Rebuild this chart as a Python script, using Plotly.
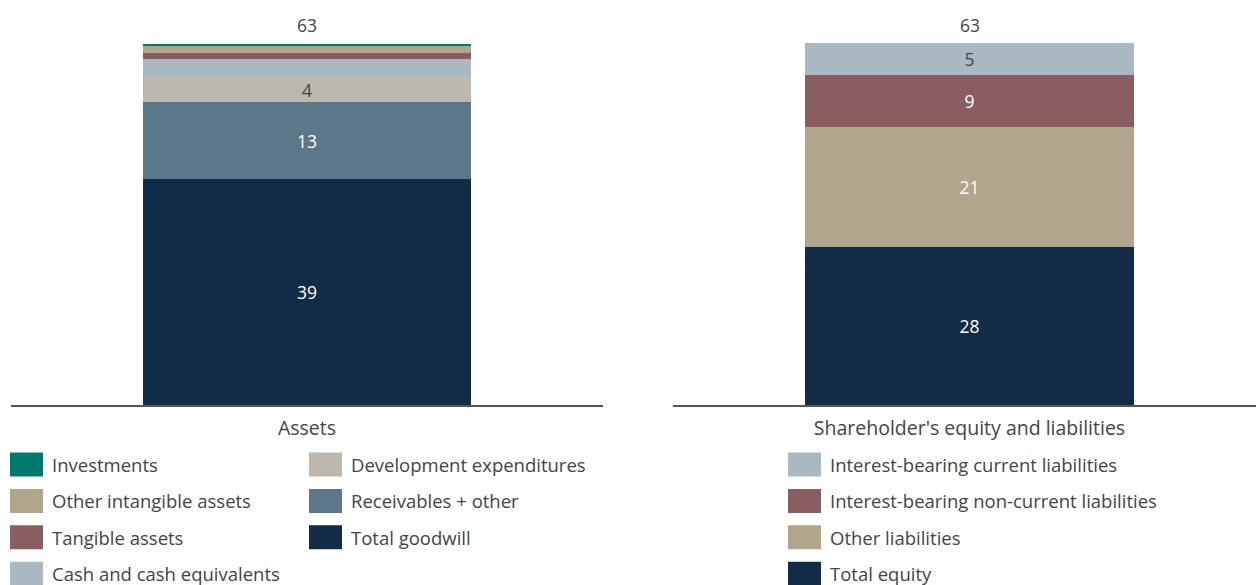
import plotly.graph_objects as go

# ---- data ----
asset_names = ["Total goodwill", "Receivables + other", "Development expenditures",
               "Cash and cash equivalents", "Tangible assets", "Other intangible assets", "Investments"]
asset_values = [39.3, 13.4, 4.3, 3.3, 1.0, 1.2, 0.4]
asset_labels = ["39", "13", "4", "", "", "", ""]
asset_colors = ["#122c47", "#5b7789", "#bcb8b0", "#aab8c2", "#8a5e60", "#b0a68b", "#007a70"]
asset_text_colors = ["#ffffff", "#ffffff", "#444444", "#444444", "#444444", "#444444", "#444444"]
asset_total = 63

liab_names = ["Total equity", "Other liabilities", "Interest-bearing non-current liabilities",
              "Interest-bearing current liabilities"]
liab_values = [27.5, 20.9, 9.0, 5.6]
liab_labels = ["28", "21", "9", "5"]
liab_colors = ["#122c47", "#b0a68b", "#8a5e60", "#aab8c2"]
liab_text_colors = ["#ffffff", "#ffffff", "#ffffff", "#444444"]
liab_total = 63

categories = ["Assets", "Shareholder's equity and liabilities"]

# legend layout (reading order)
legend_left_col1 = ["Investments", "Other intangible assets", "Tangible assets", "Cash and cash equivalents"]
legend_left_col2 = ["Development expenditures", "Receivables + other", "Total goodwill"]
legend_right = ["Interest-bearing current liabilities", "Interest-bearing non-current liabilities",
                "Other liabilities", "Total equity"]

FONT = "Open Sans"
TXT = "#444444"
W, H = 1256, 585

fig = go.Figure()
for n, v, lab, c, tc in zip(asset_names, asset_values, asset_labels, asset_colors, asset_text_colors):
    fig.add_trace(go.Bar(x=[categories[0]], y=[v], name=n, marker=dict(color=c, line=dict(width=0)),
                         text=[lab], textposition="inside", insidetextanchor="middle",
                         textangle=0, constraintext="none",
                         textfont=dict(color=tc, size=17.5, family=FONT), width=0.554,
                         xaxis="x", yaxis="y", showlegend=False, hoverinfo="name+y"))
for n, v, lab, c, tc in zip(liab_names, liab_values, liab_labels, liab_colors, liab_text_colors):
    fig.add_trace(go.Bar(x=[categories[1]], y=[v], name=n, marker=dict(color=c, line=dict(width=0)),
                         text=[lab], textposition="inside", insidetextanchor="middle",
                         textangle=0, constraintext="none",
                         textfont=dict(color=tc, size=17.5, family=FONT), width=0.564,
                         xaxis="x2", yaxis="y2", showlegend=False, hoverinfo="name+y"))

ymax = 63 * 405 / 362
top_dom = 1.0
base_dom = (H - 405) / H

axis_common = dict(showline=True, linecolor="#555555", linewidth=2, ticks="", showgrid=False,
                   tickfont=dict(size=19.5, color=TXT, family=FONT), fixedrange=True,
                   ticklabelstandoff=5)
yaxis_common = dict(visible=False, range=[0, ymax], domain=[base_dom, top_dom], fixedrange=True)

fig.update_layout(
    barmode="stack",
    width=W, height=H,
    margin=dict(l=0, r=0, t=0, b=0),
    paper_bgcolor="white", plot_bgcolor="white",
    font=dict(family=FONT, color=TXT),
    xaxis=dict(domain=[11 / W, 603 / W], range=[-0.5, 0.5], **axis_common),
    xaxis2=dict(domain=[673 / W, 1.0], range=[-0.5 - 5 / 583, 0.5 - 5 / 583], **axis_common),
    yaxis=dict(anchor="x", **yaxis_common),
    yaxis2=dict(anchor="x2", **yaxis_common),
)

# totals
for cat, tot, xr, yr in [(categories[0], asset_total, "x", "y"), (categories[1], liab_total, "x2", "y2")]:
    fig.add_annotation(x=cat, y=tot, xref=xr, yref=yr, text=str(tot),
                       showarrow=False, yanchor="bottom", yshift=4,
                       font=dict(size=17.5, color=TXT, family=FONT))

# manual legend (large swatches)
color_of = dict(zip(asset_names, asset_colors))
color_of.update(dict(zip(liab_names, liab_colors)))
row_top0 = 452.5
row_step = 36.4
sw_w, sw_h = 33, 24

def add_legend_col(names, x_sw, x_txt):
    for i, n in enumerate(names):
        top = row_top0 + i * row_step
        fig.add_shape(type="rect", xref="paper", yref="paper",
                      x0=x_sw / W, x1=(x_sw + sw_w) / W,
                      y0=1 - (top + sw_h) / H, y1=1 - top / H,
                      fillcolor=color_of[n], line=dict(width=0))
        fig.add_annotation(xref="paper", yref="paper", x=x_txt / W, y=1 - (top + sw_h / 2) / H,
                           text=n, showarrow=False, xanchor="left", yanchor="middle",
                           font=dict(size=18.5, color=TXT, family=FONT))

add_legend_col(legend_left_col1, 10, 50)
add_legend_col(legend_left_col2, 309, 349)
add_legend_col(legend_right, 788, 828)

fig.write_html("out.html")
